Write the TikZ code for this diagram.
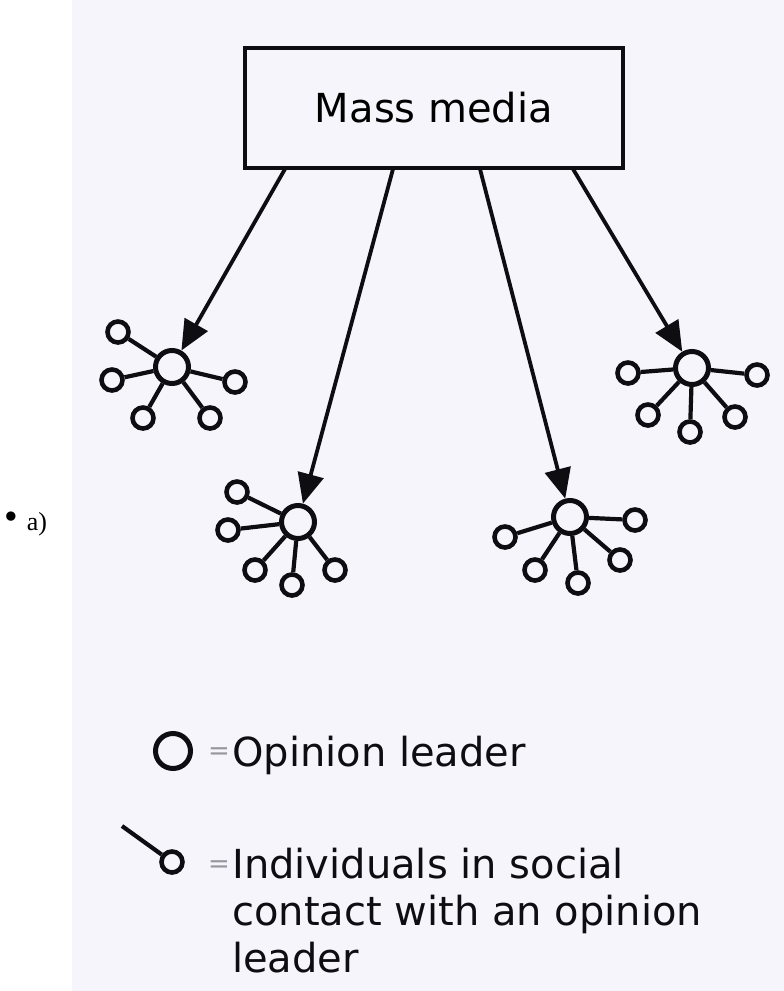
\documentclass[tikz,border=0pt]{standalone}
\usepackage{fontspec}
\setmainfont{DejaVu Sans}
\newfontfamily\serifa{Liberation Serif}
\usetikzlibrary{arrows.meta}
\definecolor{paper}{RGB}{246,245,252}
\definecolor{ink}{RGB}{14,14,18}
\definecolor{eqgray}{RGB}{150,150,158}
\begin{document}
\begin{tikzpicture}[x=1pt,y=-1pt,
  hub/.style={circle, draw=ink, line width=5pt, fill=paper, minimum size=33pt, inner sep=0pt},
  sat/.style={circle, draw=ink, line width=4.6pt, fill=paper, minimum size=21pt, inner sep=0pt},
  tie/.style={draw=ink, line width=4.2pt},
  feed/.style={draw=ink, line width=3.8pt, -{Triangle[length=30pt,width=26pt]}},
  mediabox/.style={draw=ink, line width=4.5pt, fill=paper, minimum width=378pt, minimum height=120pt, inner sep=0pt, font=\fontsize{40}{48}\selectfont},
  legtext/.style={inner sep=0pt, font=\fontsize{40}{47}\selectfont, text=ink},
  eqsign/.style={inner sep=0pt, font=\fontsize{26}{30}\selectfont, text=eqgray}]
\useasboundingbox (0,0) rectangle (784,991);
\fill[white] (0,0) rectangle (784,991);
\fill[paper] (72,0) rectangle (784,991);

% Mass media box
\node[mediabox] (box) at (434,108) {Mass media};
\coordinate (a1) at (285,169);
\coordinate (a2) at (393,169);
\coordinate (a3) at (480,169);
\coordinate (a4) at (573,169);

% cluster 1
\node[hub] (h1) at (172,367) {};
\foreach \i/\x/\y in {1/118/332, 2/112/380, 3/143/418, 4/210/418, 5/235/382}{
  \node[sat] (h1s\i) at (\x,\y) {};
  \draw[tie] (h1) -- (h1s\i);
}
% cluster 2
\node[hub] (h2) at (298,522) {};
\foreach \i/\x/\y in {1/237/492, 2/228/530, 3/255/570, 4/292/585, 5/335/570}{
  \node[sat] (h2s\i) at (\x,\y) {};
  \draw[tie] (h2) -- (h2s\i);
}
% cluster 3
\node[hub] (h3) at (570,517) {};
\foreach \i/\x/\y in {1/505/537, 2/535/570, 3/578/583, 4/620/560, 5/635/520}{
  \node[sat] (h3s\i) at (\x,\y) {};
  \draw[tie] (h3) -- (h3s\i);
}
% cluster 4
\node[hub] (h4) at (692,368) {};
\foreach \i/\x/\y in {1/628/373, 2/648/415, 3/690/432, 4/735/417, 5/757/375}{
  \node[sat] (h4s\i) at (\x,\y) {};
  \draw[tie] (h4) -- (h4s\i);
}

% arrows
\draw[feed] (a1) -- (h1);
\draw[feed] (a2) -- (h2);
\draw[feed] (a3) -- (h3);
\draw[feed] (a4) -- (h4);

% legend
\node[hub, minimum size=35pt] (legl) at (173,751) {};
\node[eqsign] (eq1) at (219,754) {=};
\node[legtext, anchor=base west] (t1) at (232,766) {Opinion leader};
\node[sat] (legi) at (172,862) {};
\coordinate (stub) at (122,826);
\draw[tie] (stub) -- (legi);
\node[eqsign] (eq2) at (219,867) {=};
\node[legtext, anchor=north west, align=left] (t2) at (232,848) {Individuals in social\\contact with an opinion\\leader};

% side label
\node[anchor=base west, inner sep=0pt, font=\serifa\fontsize{26}{30}\selectfont] (lab) at (4,530) {\raisebox{1pt}{\scalebox{1.5}{•}}\hspace{9pt}a)};
\end{tikzpicture}
\end{document}
